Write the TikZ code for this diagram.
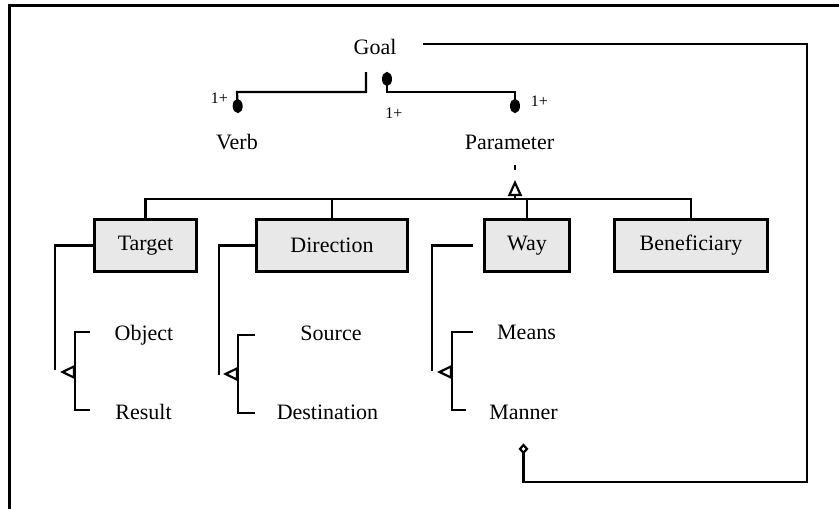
\documentclass[tikz,border=0pt]{standalone}
\usepackage{fontspec}
\setmainfont{Liberation Serif}
\usetikzlibrary{arrows.meta}
\tikzset{
    lbl/.style = {inner sep=0pt, anchor=base, font=\fontsize{22}{26}\selectfont},
    mult/.style = {inner sep=0pt, anchor=base, font=\fontsize{16}{18}\selectfont},
    catbox/.style = {draw, line width=3pt, fill=black!9, minimum height=52pt,
        inner sep=0pt, outer sep=0pt, font=\fontsize{22}{26}\selectfont},
    link/.style = {line width=2.2pt},
    dot/.tip = {Ellipse[length=14pt, width=10pt]},
    isa/.tip = {Triangle[open, length=15pt, width=14pt]}
}
\begin{document}
\begin{tikzpicture}[x = 1pt, y = -1pt]
    \useasboundingbox (0,0) rectangle (839,509);
    \draw[line width=3pt]
    (9,512) |- (842,5);
    % labels
    \node[lbl] (goal) at (375,54) {Goal};
    \node[lbl] (verb) at (237,149) {Verb};
    \node[lbl] (param) at (509.5,149) {Parameter};
    \node[mult] (multv) at (219.5,103) {1+};
    \node[mult] (multg) at (394,118) {1+};
    \node[mult] (multp) at (539.5,106) {1+};
    \node[catbox, minimum width=102pt] (target) at (145.5,245.5) {Target};
    \node[catbox, minimum width=151pt] (dir) at (332,245.5) {Direction};
    \node[catbox, minimum width=85pt] (way) at (527,245.5) {Way};
    \node[catbox, minimum width=153pt] (benef) at (691,245.5) {Beneficiary};
    \node[lbl] (object) at (144,340) {Object};
    \node[lbl] (result) at (143.5,419) {Result};
    \node[lbl] (source) at (331,340) {Source};
    \node[lbl] (dest) at (327.5,419) {Destination};
    \node[lbl] (means) at (526.5,339) {Means};
    \node[lbl] (manner) at (523.5,419) {Manner};
    % goal parts
    \coordinate (goalv) at (366,72);
    \coordinate (goalp) at (387,72);
    \coordinate (goalm) at (423,44);
    \coordinate (apex) at (515,180);
    \coordinate (bar) at (515,199);
    \begin{scope}[link]
    \draw[-dot]
    (goalv) |- (verb.north |- 0,92) -- (238,113);
    \draw[dot-dot]
    (goalp) |- (515,92) -- (515,113);
    \draw[-{Diamond[open, length=11pt, width=10pt]}]
    (goalm) -| (807,482) -| ([yshift=-24pt]manner.south);
    % kinds of parameter
    \draw[dash pattern=on 0pt off 16pt on 5pt off 20pt]
    (param.south -| apex) -- (apex);
    \draw[-{Triangle[open, length=16pt, width=14pt]}]
    (bar) -- (apex);
    \draw
    (target.north) |- (bar) -| (benef.north)
    (dir.north) -- (dir.north |- bar)
    (way.north) -- (way.north |- bar);
    % subkinds
    \draw
    (target.west) -| (55,370)
    (90,332) -| (75,410) -- (90,410)
    (dir.west) -| (219,375)
    (255,335) -| (238,413) -- (255,413)
    ([xshift=-12pt]way.west) -| (432,371)
    (473,332) -| (452,410) -- (466,410);
    \draw[-isa] (75,372) -- (60,372);
    \draw[-isa] (238,374) -- (223,374);
    \draw[-isa] (452,372) -- (437,372);
    \end{scope}
\end{tikzpicture}
\end{document}
